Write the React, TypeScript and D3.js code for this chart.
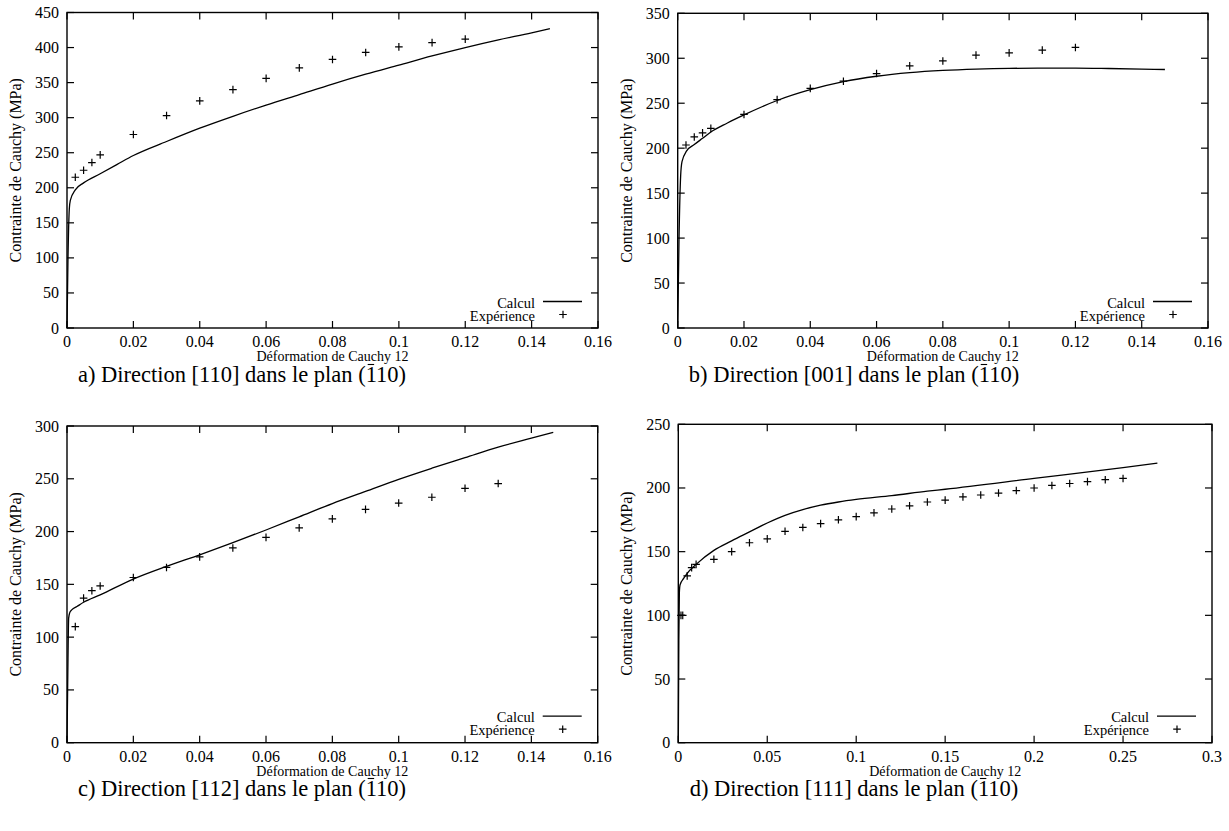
import React, { useLayoutEffect, useRef, useState } from 'react';
import * as d3 from 'd3';

type Pt = [number, number];

const xTicksSmall = [0, 0.02, 0.04, 0.06, 0.08, 0.1, 0.12, 0.14, 0.16];
const xTicksLarge = [0, 0.05, 0.1, 0.15, 0.2, 0.25, 0.3];
const yTicksA = [0, 50, 100, 150, 200, 250, 300, 350, 400, 450];
const yTicksB = [0, 50, 100, 150, 200, 250, 300, 350];
const yTicksC = [0, 50, 100, 150, 200, 250, 300];
const yTicksD = [0, 50, 100, 150, 200, 250];

const calcA: Pt[] = [
  [0, 0], [0.0003, 100], [0.0007, 170], [0.001, 182], [0.0025, 197], [0.005, 207], [0.01, 220],
  [0.015, 233], [0.02, 246], [0.03, 266], [0.04, 285], [0.05, 302], [0.06, 318], [0.07, 333],
  [0.08, 348], [0.09, 362], [0.1, 375], [0.11, 388], [0.12, 400], [0.13, 411], [0.14, 421], [0.1455, 427],
];
const expA: Pt[] = [
  [0.0025, 215], [0.005, 225], [0.0075, 236], [0.01, 247], [0.02, 276], [0.03, 303], [0.04, 324],
  [0.05, 340], [0.06, 356], [0.07, 371], [0.08, 383], [0.09, 393], [0.1, 401], [0.11, 407], [0.12, 412],
];

const calcB: Pt[] = [
  [0, 0], [0.0004, 100], [0.0009, 170], [0.0013, 185], [0.0027, 197], [0.005, 204], [0.0075, 211],
  [0.01, 218], [0.015, 228], [0.02, 237], [0.03, 253], [0.04, 265], [0.05, 274], [0.06, 280],
  [0.07, 284], [0.08, 286.5], [0.09, 288], [0.1, 288.8], [0.11, 289], [0.12, 289], [0.13, 288.6],
  [0.14, 288], [0.147, 287.5],
];
const expB: Pt[] = [
  [0.0025, 203.5], [0.005, 212.5], [0.0075, 217], [0.01, 222], [0.02, 237.5], [0.03, 254], [0.04, 266.5],
  [0.05, 274.5], [0.06, 283], [0.07, 291.5], [0.08, 297], [0.09, 303.5], [0.1, 306], [0.11, 309], [0.12, 312],
];

const calcC: Pt[] = [
  [0, 0], [0.0003, 80], [0.0005, 118], [0.0008, 123], [0.0015, 126], [0.003, 129], [0.005, 133],
  [0.01, 140], [0.02, 155], [0.03, 167], [0.04, 178], [0.05, 189.5], [0.06, 201.5], [0.07, 214],
  [0.08, 226.5], [0.09, 238], [0.1, 249.5], [0.11, 260], [0.12, 270], [0.13, 280], [0.14, 288.5], [0.1466, 294],
];
const expC: Pt[] = [
  [0.0025, 110], [0.005, 137], [0.0075, 144], [0.01, 148.5], [0.02, 156.5], [0.03, 166], [0.04, 176],
  [0.05, 184.5], [0.06, 194.5], [0.07, 203.5], [0.08, 212], [0.09, 221], [0.1, 227], [0.11, 232.5],
  [0.12, 241], [0.13, 245.5],
];

const calcD: Pt[] = [
  [0, 0], [0.0003, 80], [0.0006, 118], [0.001, 124], [0.003, 129], [0.005, 133], [0.01, 140],
  [0.02, 151], [0.03, 158.5], [0.04, 165.5], [0.05, 172.5], [0.06, 178.5], [0.07, 183], [0.08, 186.5],
  [0.09, 189], [0.1, 191], [0.12, 194], [0.14, 197.5], [0.15, 199], [0.2, 207.5], [0.25, 216], [0.2693, 219.5],
];
const expD: Pt[] = [
  [0.0015, 100], [0.0025, 100], [0.005, 131], [0.0075, 137.5], [0.01, 140], [0.02, 144], [0.03, 150],
  [0.04, 157], [0.05, 160], [0.06, 166], [0.07, 169], [0.08, 172], [0.09, 175], [0.1, 177.5],
  [0.11, 180.5], [0.12, 183.5], [0.13, 186], [0.14, 189], [0.15, 190.5], [0.16, 193], [0.17, 194.5],
  [0.18, 196], [0.19, 198], [0.2, 200], [0.21, 202], [0.22, 203.5], [0.23, 205], [0.24, 206.5], [0.25, 207.5],
];

const captionTexts = [
  'a) Direction [110] dans le plan (110)',
  'b) Direction [001] dans le plan (110)',
  'c) Direction [112] dans le plan (110)',
  'd) Direction [111] dans le plan (110)',
];

const FONT = 'Liberation Serif, DejaVu Serif, serif';

const fmt = (v: number) => String(+v.toFixed(2));

interface PanelProps {
  left: number; right: number; top: number; bottom: number;
  xMax: number; yMax: number; xTicks: number[]; yTicks: number[];
  calc: Pt[]; exp: Pt[]; caption: string; capX: number; capY: number;
}

function Caption({ text, x, y }: { text: string; x: number; y: number }) {
  const ref = useRef<SVGTextElement>(null);
  const [bar, setBar] = useState<[number, number] | null>(null);
  useLayoutEffect(() => {
    let alive = true;
    const measure = () => {
      const el = ref.current;
      if (!el || !alive) return;
      const idx = text.lastIndexOf('(') + 1;
      try {
        const s = el.getStartPositionOfChar(idx).x;
        const e = el.getEndPositionOfChar(idx).x;
        setBar([s, e]);
      } catch (err) {
        setBar(null);
      }
    };
    measure();
    const fonts = (document as any).fonts;
    if (fonts && fonts.ready) fonts.ready.then(() => requestAnimationFrame(measure));
    const t = setTimeout(measure, 300);
    return () => { alive = false; clearTimeout(t); };
  }, [text, x, y]);
  return (
    <g>
      <text ref={ref} x={x} y={y} textAnchor="middle" fontSize={22.5} style={{ fontFamily: FONT }}>{text}</text>
      {bar && <line x1={bar[0] + 2} x2={bar[1] - 2} y1={y - 17.5} y2={y - 17.5} stroke="#000" strokeWidth={1.1} />}
    </g>
  );
}

function Panel(p: PanelProps) {
  const x = d3.scaleLinear().domain([0, p.xMax]).range([p.left, p.right]);
  const y = d3.scaleLinear().domain([0, p.yMax]).range([p.bottom, p.top]);
  const line = d3.line<Pt>().x(d => x(d[0])).y(d => y(d[1])).curve(d3.curveMonotoneX);
  const tl = 7;
  const cs = 3.8;
  const midY = (p.top + p.bottom) / 2;
  const midX = (p.left + p.right) / 2;
  const st = { fontFamily: FONT };
  return (
    <g fill="#000">
      {p.xTicks.map(t => (
        <g key={'x' + t}>
          <line x1={x(t)} x2={x(t)} y1={p.bottom} y2={p.bottom - tl} stroke="#000" strokeWidth={1.2} />
          <line x1={x(t)} x2={x(t)} y1={p.top} y2={p.top + tl} stroke="#000" strokeWidth={1.2} />
          <text x={x(t)} y={p.bottom + 19} textAnchor="middle" fontSize={16} style={st}>{fmt(t)}</text>
        </g>
      ))}
      {p.yTicks.map(t => (
        <g key={'y' + t}>
          <line x1={p.left} x2={p.left + tl} y1={y(t)} y2={y(t)} stroke="#000" strokeWidth={1.2} />
          <line x1={p.right} x2={p.right - tl} y1={y(t)} y2={y(t)} stroke="#000" strokeWidth={1.2} />
          <text x={p.left - 8} y={y(t) + 5.5} textAnchor="end" fontSize={16} style={st}>{t}</text>
        </g>
      ))}
      <rect x={p.left} y={p.top} width={p.right - p.left} height={p.bottom - p.top} fill="none" stroke="#000" strokeWidth={1.4} />
      <path d={line(p.calc) || ''} fill="none" stroke="#000" strokeWidth={1.3} />
      {p.exp.map((d, i) => (
        <path key={i} d={`M${x(d[0]) - cs},${y(d[1])}H${x(d[0]) + cs}M${x(d[0])},${y(d[1]) - cs}V${y(d[1]) + cs}`} stroke="#000" strokeWidth={1.2} fill="none" />
      ))}
      <text x={p.right - 63} y={p.bottom - 20.5} textAnchor="end" fontSize={14.5} style={st}>Calcul</text>
      <line x1={p.right - 55} x2={p.right - 16} y1={p.bottom - 26.5} y2={p.bottom - 26.5} stroke="#000" strokeWidth={1.3} />
      <text x={p.right - 63} y={p.bottom - 7.5} textAnchor="end" fontSize={14.5} style={st}>Expérience</text>
      <path d={`M${p.right - 35 - cs},${p.bottom - 13.5}H${p.right - 35 + cs}M${p.right - 35},${p.bottom - 13.5 - cs}V${p.bottom - 13.5 + cs}`} stroke="#000" strokeWidth={1.2} />
      <text x={midX} y={p.bottom + 33} textAnchor="middle" fontSize={14} style={st}>Déformation de Cauchy 12</text>
      <text transform={`translate(${p.left - 46},${midY}) rotate(-90)`} textAnchor="middle" fontSize={16} style={st}>Contrainte de Cauchy (MPa)</text>
      <Caption text={p.caption} x={p.capX} y={p.capY} />
    </g>
  );
}

export default function App() {
  return (
    <svg width={1229} height={831} style={{ position: 'absolute', left: 0, top: 0, background: '#fff' }}>
      <rect x={0} y={0} width={1229} height={831} fill="#fff" />
      <Panel left={67} right={598} top={12.5} bottom={328} xMax={0.16} yMax={450} xTicks={xTicksSmall} yTicks={yTicksA}
        calc={calcA} exp={expA} caption={captionTexts[0]} capX={242} capY={382} />
      <Panel left={677.7} right={1208} top={13.3} bottom={328} xMax={0.16} yMax={350} xTicks={xTicksSmall} yTicks={yTicksB}
        calc={calcB} exp={expB} caption={captionTexts[1]} capX={854} capY={382} />
      <Panel left={67} right={597.7} top={426} bottom={742.7} xMax={0.16} yMax={300} xTicks={xTicksSmall} yTicks={yTicksC}
        calc={calcC} exp={expC} caption={captionTexts[2]} capX={242} capY={796} />
      <Panel left={678.3} right={1212} top={424.3} bottom={742.7} xMax={0.3} yMax={250} xTicks={xTicksLarge} yTicks={yTicksD}
        calc={calcD} exp={expD} caption={captionTexts[3]} capX={854} capY={796} />
    </svg>
  );
}
